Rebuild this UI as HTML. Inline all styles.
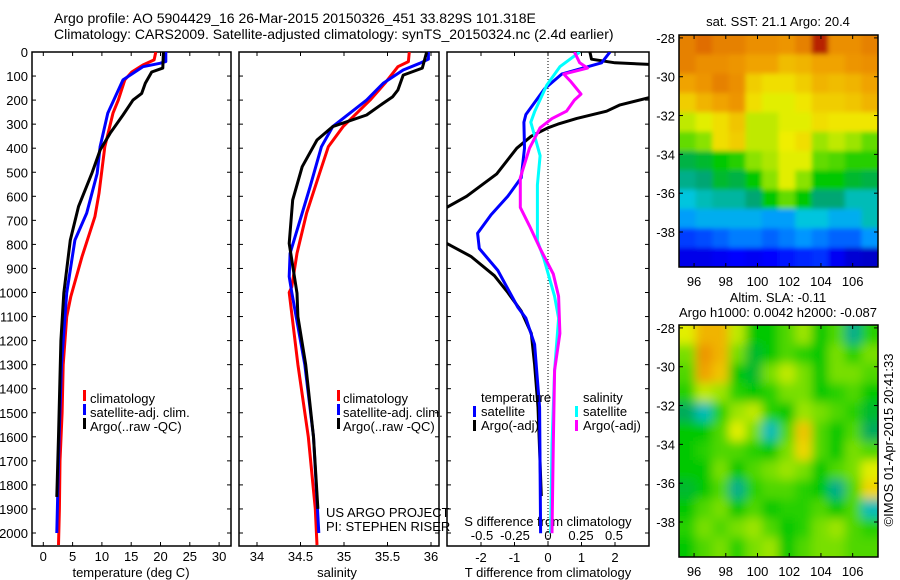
<!DOCTYPE html>
<html><head><meta charset="utf-8"><style>
body{margin:0;background:#fff;}
svg{display:block;font-family:"Liberation Sans",sans-serif;}
text{font-size:13px;fill:#000;}
</style></head><body>
<svg id="c" width="900" height="580" viewBox="0 0 900 580">
<defs>
<clipPath id="cp1"><rect x="32" y="52" width="199" height="494"/></clipPath>
<clipPath id="cp2"><rect x="239" y="52" width="200" height="494"/></clipPath>
<clipPath id="cp3"><rect x="447" y="52" width="202" height="494"/></clipPath>
<clipPath id="cpm1"><rect x="679" y="35" width="199" height="232"/></clipPath>
<clipPath id="cpm2"><rect x="679" y="325" width="199" height="232"/></clipPath>
<filter id="blur" x="-5%" y="-5%" width="110%" height="110%"><feGaussianBlur stdDeviation="5"/></filter>
<filter id="blur2" x="-5%" y="-5%" width="110%" height="110%"><feGaussianBlur stdDeviation="2.5"/></filter>
</defs>
<text x="54" y="23" style="font-size:14px">Argo profile: AO 5904429_16 26-Mar-2015 20150326_451 33.829S 101.318E</text>
<text x="54" y="39" style="font-size:14px">Climatology: CARS2009. Satellite-adjusted climatology: synTS_20150324.nc (2.4d earlier)</text>
<g id="g"></g>
</svg>
<script>
// ---------- data ----------
const depthTicks=[0,100,200,300,400,500,600,700,800,900,1000,1100,1200,1300,1400,1500,1600,1700,1800,1900,2000];
const tempTicks=[0,5,10,15,20,25,30];
const salTicks=[34,34.5,35,35.5,36];
const tdiffTicks=[-2,-1,0,1,2];
const sdiffTicks=[-0.5,-0.25,0,0.25,0.5];
const sdiffTickLabels=["-0.5","-0.25","0","0.25","0.5"];

const tClimD=[0,33,54,83,116,200,254,394,588,685,851,1017,1101,1300,1500,1700,1900,2050];
const tClimV=[19.2,18.9,17,15.1,13.9,12.8,11.9,10.5,9.5,8.8,6.6,4.7,4.0,3.4,3.2,2.85,2.75,2.6];
const tSatD=[0,40,47,61,116,254,394,504,670,782,1003,1300,1600,2000];
const tSatV=[20.9,20.9,19.9,17,13.6,11,9.7,9.2,7.4,5.4,4.0,3.1,2.7,2.3];
const tArgoD=[0,67,83,130,172,200,262,338,408,504,643,782,1003,1200,1600,1850];
const tArgoV=[20.5,20.4,18.5,17.4,16.8,15.3,13.6,11.4,9.7,8.3,6.0,4.6,3.5,3.0,2.6,2.3];

const sClimD=[0,40,61,130,200,310,394,504,670,837,976,1000,1300,1600,1900,2050];
const sClimV=[35.75,35.74,35.62,35.47,35.3,34.99,34.82,34.72,34.57,34.46,34.4,34.37,34.47,34.59,34.67,34.69];
const sSatD=[0,30,47,75,130,200,310,394,560,670,837,934,1000,1300,1600,2000];
const sSatV=[35.97,35.97,35.87,35.68,35.45,35.26,34.87,34.74,34.61,34.52,34.38,34.37,34.4,34.55,34.65,34.71];
const sArgoD=[0,67,96,158,186,213,262,310,366,477,615,796,1003,1100,1300,1600,1900];
const sArgoV=[35.95,35.9,35.68,35.62,35.56,35.45,35.26,34.87,34.69,34.52,34.41,34.37,34.46,34.47,34.56,34.65,34.7];

const dtArgoD=[0,30,45,55,100,180,220,246,276,300,315,350,400,507,600,660,700,790,850,930,1000,1077,1170,1300,1477,1846];
const dtArgoV=[1.25,1.3,2.0,3.5,5,3.3,2.15,1.75,0.86,0.3,0.0,-0.5,-0.93,-1.53,-2.43,-3.2,-4,-3.1,-2.3,-1.6,-1.2,-0.8,-0.5,-0.4,-0.3,-0.2];
const dtSatD=[0,45,92,153,260,292,400,523,600,677,754,817,908,1062,1107,1216,1478,2001];
const dtSatV=[1.85,1.6,0.41,-0.1,-0.66,-0.72,-0.7,-0.8,-1.2,-1.7,-2.1,-2.05,-1.5,-0.9,-0.66,-0.4,-0.25,-0.22];
const dsSatD=[0,61,138,246,292,431,553,785,861,1016,1107,1323,1631,2001];
const dsSatV=[0.24,0.09,-0.01,-0.1,-0.13,-0.06,-0.08,-0.08,-0.03,0.05,0.08,0.05,0.03,0.02];
const dsArgoD=[0,45,67,92,121,175,200,246,277,315,400,523,646,723,817,923,1016,1170,1323,1631,2001];
const dsArgoV=[0.2,0.24,0.3,0.12,0.17,0.25,0.2,0.14,0.03,-0.06,-0.14,-0.21,-0.21,-0.14,-0.06,0.04,0.08,0.09,0.05,0.04,0.03];

const lonTicks=[96,98,100,102,104,106];
const latTicks=[-28,-30,-32,-34,-36,-38];
const sstGrid=[
[21.5,21.8,21.5,21.5,21.3,21.3,21.2,21.5,22.5,21.3,21.3,21.5],
[21.5,21.3,21.3,21.2,21,21,20.7,20.8,21,21,21.2,21.3],
[21,21.2,21.5,21.3,20.5,20.3,20.3,20.5,20.8,20.7,20.8,21],
[20.5,20.8,21,21.2,20.3,20,20,20.2,20.5,20.5,20.6,20.8],
[19.8,20,20.3,20.6,19.8,19.8,20,20,20.3,20.2,20.2,20.2],
[19.3,19.5,20.3,20.5,19.8,19.8,20.1,20.3,19.6,19.8,19.6,19.3],
[18.5,18.6,18.8,19,19.5,19.7,20,20,19.3,19.2,19,19],
[18.2,18.3,18.6,18.5,18.8,19.5,20,19.5,18.8,18.8,18.6,18.5],
[17.8,18,18.1,18.1,18.3,18.8,19.3,18.8,18.3,18.3,18,18],
[17.3,17.5,17.5,17.5,17.5,17.3,17.3,17.8,17.8,17.5,17.5,18],
[16.5,16.6,16.8,17,17,16.8,17,17.2,17,16.8,16.8,17.2],
[15.8,15.8,15.9,16,15.9,16,16.2,16.3,16.4,15.9,15.6,15.5]];
const slaGrid=[
[0.06,0.1,0.1,0.05,0,0,0.02,0.04,0,0.02,-0.03,0.01],
[0.03,0.12,0.1,0.03,-0.01,0,0.02,0.01,0,0.03,0.01,0.03],
[0.02,0.11,0.09,0,-0.01,0.03,0.05,0.03,0,0.03,0.03,0.02],
[0.01,0.05,0.04,0.01,0,0.01,0.03,0.03,0,0.01,0.02,0],
[-0.02,-0.04,0.01,0.04,0.05,0.01,0,0.04,0.03,0.02,0.01,-0.01],
[0,0,0.02,0.06,0.03,-0.04,0.02,0.09,0.02,0,0.02,-0.02],
[0,0.01,0.02,0.02,0.01,0,0.03,0.08,0.02,0,0.03,0.02],
[0,0,0.03,0,0.02,0.03,0.04,0.03,0,0.02,0.03,0.06],
[-0.01,0,0.02,-0.03,0.01,0.02,0.02,0.01,0,-0.03,0.02,0.08],
[0,0.02,0.03,0,0.02,0,0.01,0.01,0.02,0,0.02,-0.04],
[0.01,0.03,0.02,0.03,0.04,0.02,0,0.01,0.03,0.04,0.02,0.01],
[0,0.02,0.03,0.01,0.03,0.04,0,0.02,0.03,0.03,0.02,0.02]];

// ---------- helpers ----------
const NS="http://www.w3.org/2000/svg";
const G=document.getElementById('g');
function mk(tag,attrs,parent){const e=document.createElementNS(NS,tag);for(const k in attrs)e.setAttribute(k,attrs[k]);(parent||G).appendChild(e);return e;}
const yD=d=>52+d*0.2405;
const xT=v=>43.3+v*5.86;
const xS=v=>257+(v-34)*87;
const xDT=v=>548+v*33.5;
const xDS=v=>548+v*132;

function frame(x,y,w,h,name){
  const r=mk('rect',{x:x,y:y,width:w,height:h,fill:'none',stroke:'#000','stroke-width':1.5});
  
  
}
function line(D,V,xf,color,clip,name){
  let p='';for(let i=0;i<D.length;i++)p+=(i?'L':'M')+xf(V[i]).toFixed(1)+','+yD(D[i]).toFixed(1);
  const e=mk('path',{d:p,fill:'none',stroke:color,'stroke-width':3,'clip-path':'url(#'+clip+')','stroke-linejoin':'round'});
  
  
}
function txt(x,y,s,name,anchor,extra){
  const t=mk('text',Object.assign({x:x,y:y,'text-anchor':anchor||'start'},extra||{}));t.textContent=s;
  
  
  return t;
}
function tick(x1,y1,x2,y2){mk('line',{x1:x1,y1:y1,x2:x2,y2:y2,stroke:'#000','stroke-width':1});}
function legendMark(x,y,color,name){
  const r=mk('rect',{x:x,y:y-10,width:3,height:11,fill:color});
  
  
}

// ---------- panel 1: temperature ----------
frame(32,52,199,494,'temperature-panel');
depthTicks.forEach(d=>{tick(32,yD(d),36,yD(d));tick(231,yD(d),227,yD(d));txt(28,yD(d)+5,String(d),'depth-tick-label','end');});
tempTicks.forEach(v=>{tick(xT(v),546,xT(v),542);tick(xT(v),52,xT(v),56);txt(xT(v),561,String(v),'temp-tick-label','middle');});
txt(131,577,'temperature (deg C)','temp-axis-title','middle');
line(tClimD,tClimV,xT,'#f00','cp1','temp-climatology-line');
line(tSatD,tSatV,xT,'#00f','cp1','temp-satellite-line');
line(tArgoD,tArgoV,xT,'#000','cp1','temp-argo-line');
[['climatology','#f00'],['satellite-adj. clim.','#00f'],['Argo(..raw -QC)','#000']].forEach((l,i)=>{
  legendMark(83,400+i*14,l[1],'temp-legend-marker');txt(90,403+i*14,l[0],'temp-legend-entry');});

// ---------- panel 2: salinity ----------
frame(239,52,200,494,'salinity-panel');
depthTicks.forEach(d=>{tick(239,yD(d),243,yD(d));tick(439,yD(d),435,yD(d));});
salTicks.forEach(v=>{tick(xS(v),546,xS(v),542);tick(xS(v),52,xS(v),56);txt(xS(v),561,String(v),'salinity-tick-label','middle');});
txt(337,577,'salinity','salinity-axis-title','middle');
line(sClimD,sClimV,xS,'#f00','cp2','sal-climatology-line');
line(sSatD,sSatV,xS,'#00f','cp2','sal-satellite-line');
line(sArgoD,sArgoV,xS,'#000','cp2','sal-argo-line');
[['climatology','#f00'],['satellite-adj. clim.','#00f'],['Argo(..raw -QC)','#000']].forEach((l,i)=>{
  legendMark(337,400+i*14,l[1],'sal-legend-marker');txt(343,403+i*14,l[0],'sal-legend-entry');});
txt(326,517,'US ARGO PROJECT','project-label');
txt(326,531,'PI: STEPHEN RISER','pi-label');

// ---------- panel 3: differences ----------
frame(447,52,202,494,'difference-panel');
mk('line',{x1:548,y1:52,x2:548,y2:546,stroke:'#000','stroke-width':1,'stroke-dasharray':'1,2'});
depthTicks.forEach(d=>{tick(447,yD(d),451,yD(d));tick(649,yD(d),645,yD(d));});
tdiffTicks.forEach(v=>{tick(xDT(v),546,xDT(v),542);tick(xDT(v),52,xDT(v),56);txt(xDT(v),562,String(v),'tdiff-tick-label','middle');});
sdiffTicks.forEach((v,i)=>{txt(xDS(v),540,sdiffTickLabels[i],'sdiff-tick-label','middle');});
txt(548,526,'S difference from climatology','sdiff-axis-title','middle');
txt(548,577,'T difference from climatology','tdiff-axis-title','middle');
line(dtArgoD,dtArgoV,xDT,'#000','cp3','tdiff-argo-line');
line(dtSatD,dtSatV,xDT,'#00f','cp3','tdiff-satellite-line');
line(dsSatD,dsSatV,xDS,'#0ff','cp3','sdiff-satellite-line');
line(dsArgoD,dsArgoV,xDS,'#f0f','cp3','sdiff-argo-line');
txt(481,402,'temperature','tdiff-legend-header');
txt(583,402,'salinity','sdiff-legend-header');
legendMark(473,416,'#00f','tdiff-legend-marker');txt(481,416,'satellite','tdiff-legend-entry');
legendMark(473,430,'#000','tdiff-legend-marker');txt(481,430,'Argo(-adj)','tdiff-legend-entry');
legendMark(575,416,'#0ff','sdiff-legend-marker');txt(583,416,'satellite','sdiff-legend-entry');
legendMark(575,430,'#f0f','sdiff-legend-marker');txt(583,430,'Argo(-adj)','sdiff-legend-entry');

// ---------- maps ----------
const stops=[[0,[0,0,127]],[0.15,[0,0,255]],[0.3,[0,150,255]],[0.38,[0,200,220]],[0.44,[0,165,110]],[0.5,[0,200,0]],[0.58,[128,224,0]],[0.66,[240,240,0]],[0.78,[240,160,0]],[0.9,[220,96,0]],[1,[160,0,0]]];
function cmap(t){t=Math.max(0,Math.min(1,t));for(let i=1;i<stops.length;i++){if(t<=stops[i][0]){const a=stops[i-1],b=stops[i],f=(t-a[0])/(b[0]-a[0]);const c=a[1].map((v,k)=>Math.round(v+(b[1][k]-v)*f));return 'rgb('+c.join(',')+')';}}return 'rgb(160,0,0)';}
const LON0=95.05,LON1=107.6,LAT0=-27.85,LAT1=-39.8;
function drawMap(grid,y0,vmin,vmax,clip,name,filt){
  const mx=lon=>679+(lon-LON0)*15.86, my=lat=>y0+(LAT0-lat)*19.41;
  const g=mk('g',{'clip-path':'url(#'+clip+')'});
  
  
  const inner=mk('g',{filter:'url(#'+filt+')'},g);
  const nr=grid.length,nc=grid[0].length,dl=(LON1-LON0)/nc,da=(LAT0-LAT1)/nr;
  for(let r=0;r<nr;r++)for(let c=0;c<nc;c++){
    const ex0=(c==0)?10:0, ey0=(r==0)?10:0;
    const x1=mx(LON0+c*dl)-ex0,x2=mx(LON0+(c+1)*dl),ya=my(LAT0-r*da)-ey0,yb=my(LAT0-(r+1)*da);
    const ex=(c==nc-1)?10:0, ey=(r==nr-1)?10:0;
    const cell=mk('rect',{x:x1,y:ya,width:x2-x1+ex+0.5,height:yb-ya+ey+0.5,fill:cmap((grid[r][c]-vmin)/(vmax-vmin))},inner);
    
    
  }
  frame(679,y0,199,232,name+'-frame');
  latTicks.forEach(l=>{tick(679,my(l),683,my(l));tick(878,my(l),874,my(l));txt(675,my(l)+5,String(l),'lat-tick-label','end');});
  lonTicks.forEach(l=>{tick(mx(l),y0,mx(l),y0+4);tick(mx(l),y0+232,mx(l),y0+228);txt(mx(l),y0+251,String(l),'lon-tick-label','middle');});
}
drawMap(sstGrid,35,14.8,22.8,'cpm1','sst-map','blur2');
drawMap(slaGrid,325,-0.2,0.2,'cpm2','sla-map','blur');
txt(778,26,'sat. SST: 21.1  Argo: 20.4','sst-map-title','middle');
txt(778,302,'Altim. SLA: -0.11','sla-map-title','middle');
txt(778,317,'Argo h1000: 0.0042 h2000: -0.087','sla-map-subtitle','middle');
txt(893,440,'\u00a9IMOS 01-Apr-2015 20:41:33','credit-label','middle',{transform:'rotate(-90 893 440)'});
</script>
</body></html>
